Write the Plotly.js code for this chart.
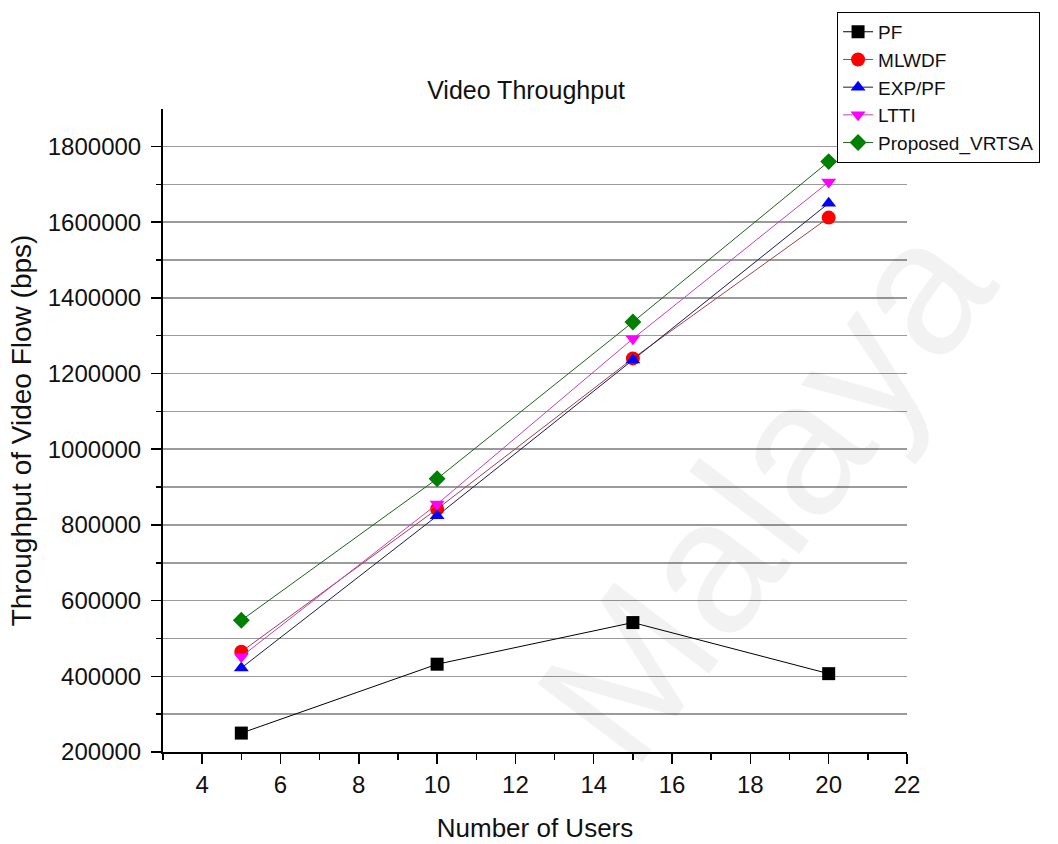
<!DOCTYPE html>
<html>
<head>
<meta charset="utf-8">
<script src="https://cdn.plot.ly/plotly-3.0.1.min.js"></script>
<style>html,body{margin:0;padding:0;background:#fff;}#chart{width:1058px;height:844px;}</style>
</head>
<body>
<div id="chart"></div>
<script>
const users = [5, 10, 15, 20];
const seriesNames = ['PF', 'MLWDF', 'EXP/PF', 'LTTI', 'Proposed_VRTSA'];
const pf = [250000, 432000, 542000, 407000];
const mlwdf = [465000, 842000, 1240000, 1612000];
const expPf = [422000, 824000, 1236000, 1650000];
const ltti = [452000, 855000, 1292000, 1706000];
const proposed = [548000, 922000, 1336000, 1760000];

const values = [pf, mlwdf, expPf, ltti, proposed];
const markerColors = ['#000000', '#ff0000', '#0000ff', '#ff00ff', '#008000'];
const lineColors = ['#000000', '#a0404a', '#1a1a50', '#c040c0', '#1f5f1f'];
const symbols = ['square', 'circle', 'triangle-up', 'triangle-down', 'diamond'];
const sizes = [13, 14, 13, 13, 13];

const traces = seriesNames.map((name, i) => ({
  type: 'scatter',
  mode: 'lines+markers',
  name: name,
  x: users,
  y: values[i],
  line: {color: lineColors[i], width: 1},
  marker: {symbol: symbols[i], size: sizes[i], color: markerColors[i], line: {width: 0}}
}));

const font = 'Liberation Sans, Arial, sans-serif';
const layout = {
  width: 1058, height: 844,
  margin: {l: 163, r: 151, t: 109, b: 92},
  paper_bgcolor: '#ffffff', plot_bgcolor: '#ffffff',
  font: {family: font, color: '#111111'},
  showlegend: true,
  title: {text: 'Video Throughput', font: {size: 25, family: font, color: '#111'},
          x: 0.488, xref: 'paper', xanchor: 'center', y: 0.893, yref: 'container', yanchor: 'middle'},
  xaxis: {
    range: [3, 22], tick0: 0, dtick: 2,
    ticks: 'outside', ticklen: 10, tickwidth: 1.5, tickcolor: '#000',
    showline: true, linecolor: '#000', linewidth: 2,
    showgrid: false, zeroline: false,
    tickfont: {size: 24, family: font, color: '#111'},
    minor: {dtick: 1, ticks: 'outside', ticklen: 6, tickwidth: 1.5, tickcolor: '#000', showgrid: false},
    title: {text: 'Number of Users', font: {size: 26, family: font, color: '#111'}, standoff: 22}
  },
  yaxis: {
    range: [200000, 1899000], tick0: 0, dtick: 200000,
    tickformat: 'd',
    ticks: 'outside', ticklen: 10, tickwidth: 1.5, tickcolor: '#000',
    ticklabelstandoff: 5,
    showline: true, linecolor: '#000', linewidth: 2,
    showgrid: true, gridcolor: '#9a9a9a', gridwidth: 1.5,
    zeroline: false,
    tickfont: {size: 24, family: font, color: '#111'},
    minor: {dtick: 100000, ticks: 'outside', ticklen: 5, tickwidth: 1.5, tickcolor: '#000', showgrid: true, gridcolor: '#9a9a9a', gridwidth: 1.5},
    title: {text: 'Throughput of Video Flow (bps)', font: {size: 28, family: font, color: '#111'}, standoff: 8}
  },
  legend: {
    x: 0.906, y: 1.151, xanchor: 'left', yanchor: 'top',
    bordercolor: '#000', borderwidth: 1, bgcolor: '#ffffff',
    font: {size: 19, family: font, color: '#111'},
    tracegroupgap: 0
  },
  annotations: [{
    text: 'Malaya', xref: 'paper', yref: 'paper', x: 0.809, y: 0.407,
    xanchor: 'center', yanchor: 'middle',
    showarrow: false, textangle: -53,
    font: {size: 190, family: font, color: 'rgba(0,0,0,0.05)'}
  }]
};

Plotly.newPlot('chart', traces, layout, {displayModeBar: false, staticPlot: true});
</script>
</body>
</html>
